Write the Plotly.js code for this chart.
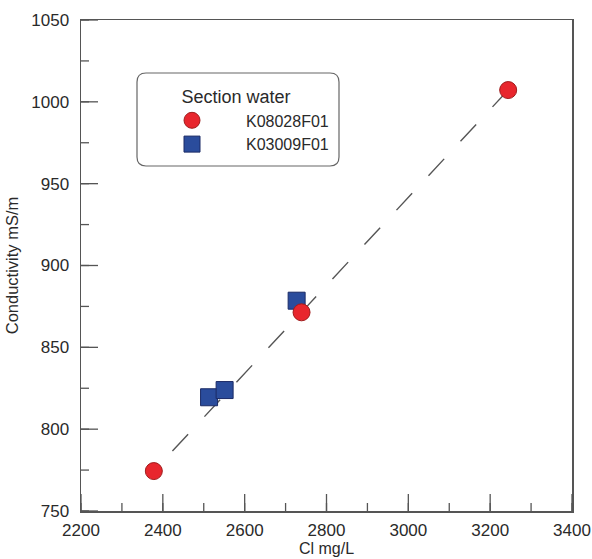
<!DOCTYPE html>
<html>
<head>
<meta charset="utf-8">
<script src="https://cdn.plot.ly/plotly-3.0.1.min.js"></script>
<style>html,body{margin:0;padding:0;background:#fff;}#chart{width:592px;height:559px;}</style>
</head>
<body>
<div id="chart"></div>
<script>
// Data
var seriesNames = ['K08028F01', 'K03009F01'];
var k08028Cl = [2378, 2739, 3244];
var k08028Cond = [774.4, 871.4, 1007.2];
var k03009Cl = [2513, 2551, 2727];
var k03009Cond = [819.5, 823.9, 878.5];
// Trend line (dashed) endpoints
var trendCl = [3244, 2378];
var trendCond = [1007.2, 774.4];

var xRange = [2200, 3400];
var yRange = [750, 1050];
var xMajorStep = 200, xMinorStep = 100;
var yMajorStep = 50, yMinorStep = 25;

var FONT = 'Liberation Sans, Arial, sans-serif';
var AX = '#555555';

var traces = [
  {x: trendCl, y: trendCond, mode: 'lines', showlegend: false, hoverinfo: 'skip',
   line: {color: '#555555', width: 1.4, dash: '23px,24px'}},
  {x: k03009Cl, y: k03009Cond, mode: 'markers', name: seriesNames[1], legendrank: 2,
   marker: {symbol: 'square', size: 17, color: '#2a4c9c', line: {color: '#1b2b66', width: 1}}},
  {x: k08028Cl, y: k08028Cond, mode: 'markers', name: seriesNames[0], legendrank: 1,
   marker: {symbol: 'circle', size: 17, color: '#e8262d', line: {color: '#a01c1c', width: 1}}}
];

var W = 491;
var r = 9 / W;
var bx0 = (137 - 81) / W, bx1 = (339 - 81) / W;
var by1 = (511 - 73) / W, by0 = (511 - 166) / W;
function rr(x0, y0, x1, y1, r) {
  return 'M' + (x0 + r) + ',' + y1 +
    ' L' + (x1 - r) + ',' + y1 + ' Q' + x1 + ',' + y1 + ' ' + x1 + ',' + (y1 - r) +
    ' L' + x1 + ',' + (y0 + r) + ' Q' + x1 + ',' + y0 + ' ' + (x1 - r) + ',' + y0 +
    ' L' + (x0 + r) + ',' + y0 + ' Q' + x0 + ',' + y0 + ' ' + x0 + ',' + (y0 + r) +
    ' L' + x0 + ',' + (y1 - r) + ' Q' + x0 + ',' + y1 + ' ' + (x0 + r) + ',' + y1 + ' Z';
}

var shapes = [{type: 'path', xref: 'paper', yref: 'paper', path: rr(bx0, by0, bx1, by1, r),
               line: {color: '#666666', width: 1.2}, fillcolor: 'rgba(0,0,0,0)', layer: 'below'}];

// Inside tick marks, generated from the axis ranges and steps (pixel-length lines)
function addXTicks(step, len) {
  for (var v = xRange[0]; v <= xRange[1] + 1e-9; v += step) {
    shapes.push({type: 'line', xref: 'x', yref: 'y', ysizemode: 'pixel', yanchor: yRange[0],
      x0: v, x1: v, y0: 0, y1: len, line: {color: AX, width: 1.3}, layer: 'above'});
  }
}
function addYTicks(step, len) {
  for (var v = yRange[0]; v <= yRange[1] + 1e-9; v += step) {
    shapes.push({type: 'line', xref: 'x', yref: 'y', xsizemode: 'pixel', xanchor: xRange[0],
      y0: v, y1: v, x0: 0, x1: len, line: {color: AX, width: 1.3}, layer: 'above'});
  }
}
addXTicks(xMinorStep, 8);
addXTicks(xMajorStep, 17);
addYTicks(yMinorStep, 8);
addYTicks(yMajorStep, 17);

var axisCommon = {
  showgrid: false, zeroline: false, showline: true, linecolor: AX, linewidth: 1.5,
  mirror: true, ticks: '',
  tickfont: {family: FONT, size: 17, color: '#2a2a2a'}
};

var layout = {
  width: 592, height: 559,
  margin: {l: 81, r: 20, t: 20, b: 48},
  paper_bgcolor: '#ffffff', plot_bgcolor: '#ffffff',
  showlegend: true,
  xaxis: Object.assign({}, axisCommon, {
    range: xRange, tick0: xRange[0], dtick: xMajorStep,
    ticklabelstandoff: 3,
    title: {text: 'Cl mg/L', font: {family: FONT, size: 16, color: '#2a2a2a'}, standoff: 4}
  }),
  yaxis: Object.assign({}, axisCommon, {
    range: yRange, tick0: yRange[0], dtick: yMajorStep,
    ticklabelstandoff: 7,
    title: {text: 'Conductivity mS/m', font: {family: FONT, size: 16.5, color: '#2a2a2a'}, standoff: 8}
  }),
  legend: {
    x: (138 - 81) / W, y: (511 - 80) / W, xanchor: 'left', yanchor: 'top',
    bgcolor: 'rgba(0,0,0,0)', borderwidth: 0,
    itemwidth: 98, traceorder: 'normal',
    title: {text: 'Section water', side: 'top center', font: {family: FONT, size: 18, color: '#2a2a2a'}},
    font: {family: FONT, size: 16, color: '#2a2a2a'}
  },
  shapes: shapes
};

Plotly.newPlot('chart', traces, layout, {displayModeBar: false, staticPlot: true});
</script>
</body>
</html>
